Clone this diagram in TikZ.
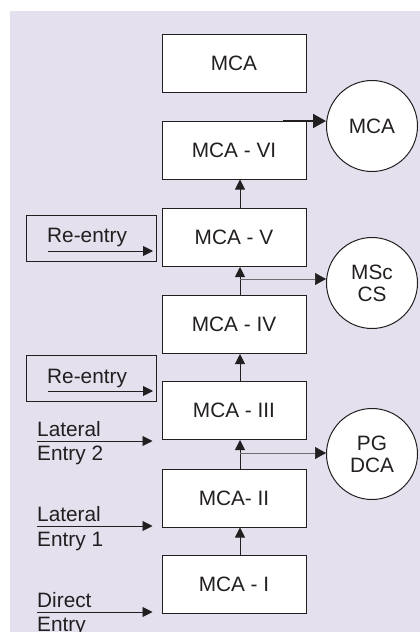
\documentclass[tikz,border=0pt]{standalone}
\usepackage{fontspec}
\setmainfont{Liberation Sans}
\usetikzlibrary{arrows.meta}
\definecolor{bg}{RGB}{228,224,238}
\definecolor{ink}{RGB}{35,31,32}
\definecolor{thin}{RGB}{110,108,112}
\begin{document}
\begin{tikzpicture}[x=1pt,y=-1pt,
  font=\fontsize{20.8}{22}\selectfont,
  course/.style={draw=ink, line width=1pt, fill=white, text=ink, minimum width=144pt, minimum height=58pt, inner sep=0pt},
  exitc/.style={circle, draw=ink, line width=1pt, fill=white, text=ink, minimum size=91pt, inner sep=0pt, align=center},
  rebox/.style={draw=ink, line width=1pt, minimum width=130pt, minimum height=46pt, inner sep=0pt},
  lbl/.style={anchor=base west, inner sep=0pt, text=ink},
  up/.style={draw=ink, line width=0.9pt, -{Triangle[length=10pt,width=10pt]}},
  entry/.style={draw=ink, line width=0.9pt, -{Triangle[length=10pt,width=10pt]}},
  side/.style={draw=thin, line width=0.7pt, -{Triangle[length=11pt,width=12pt,fill=ink,color=ink]}},
  bold/.style={draw=ink, line width=2pt, -{Triangle[length=13pt,width=14pt]}}
]
\useasboundingbox (0,0) rectangle (420,632);
\fill[bg] (10,11) rectangle (420,632);

% course boxes
\node[course] (top) at (234,63) {MCA};
\node[course] (vi)  at (234,150) {MCA - VI};
\node[course] (v)   at (234,237.5) {MCA - V};
\node[course] (iv)  at (234,324.5) {MCA - IV};
\node[course] (iii) at (234,410.5) {MCA - III};
\node[course] (ii)  at (234,498) {MCA- II};
\node[course] (i)   at (234,584.5) {MCA - I};

% exit circles
\node[exitc] (mcac) at (372,126) {MCA};
\node[exitc] (msc)  at (372,283) {MSc\\CS};
\node[exitc] (pg)   at (372,454) {PG\\DCA};

% re-entry boxes
\node[rebox] (re1) at (91,238) {};
\node[rebox] (re2) at (91,378.5) {};
\node[lbl] (re1t) at (47,242) {Re-entry};
\node[lbl] (re2t) at (47,383) {Re-entry};
\coordinate (re1a) at (48,251);
\coordinate (re1b) at (153,251);
\coordinate (re2a) at (48,391);
\coordinate (re2b) at (153,391);
\draw[entry] (re1a) -- (re1b);
\draw[entry] (re2a) -- (re2b);

% lateral / direct entries
\node[lbl] (l2a) at (37,436.5) {Lateral};
\node[lbl] (l2b) at (37,460) {Entry 2};
\node[lbl] (l1a) at (37,521.5) {Lateral};
\node[lbl] (l1b) at (37,546.5) {Entry 1};
\node[lbl] (dea) at (37,607) {Direct};
\node[lbl] (deb) at (37,631) {Entry};
\coordinate (l2s) at (37,441);
\coordinate (l1s) at (37,526);
\coordinate (des) at (37,612);
\draw[entry, shorten >=9pt] (l2s) -- (l2s -| iii.west);
\draw[entry, shorten >=9pt] (l1s) -- (l1s -| ii.west);
\draw[entry, shorten >=9pt] (des) -- (des -| i.west);

% upward progression
\draw[up] ([xshift=6pt]i.north) -- ([xshift=6pt]ii.south);
\draw[up] ([xshift=6pt]ii.north) -- ([xshift=6pt]iii.south);
\draw[up] ([xshift=6pt]iii.north) -- ([xshift=6pt]iv.south);
\draw[up] ([xshift=6pt]iv.north) -- ([xshift=6pt]v.south);
\draw[up] ([xshift=6pt]v.north) -- ([xshift=6pt]vi.south);

% exits
\coordinate (f1) at (240,279);
\coordinate (f2) at (240,453);
\draw[side] (f1) -- ([yshift=4pt]msc.west);
\draw[side] (f2) -- ([yshift=1pt]pg.west);
\coordinate (f3) at (283,121);
\draw[bold] (f3) -- ([yshift=5pt]mcac.west);
\end{tikzpicture}
\end{document}
